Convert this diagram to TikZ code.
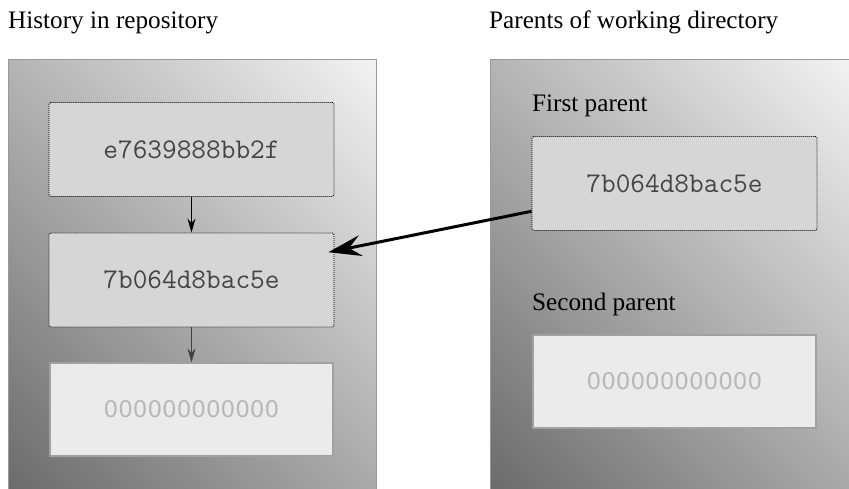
\documentclass[tikz,border=0pt]{standalone}
\usepackage{fontspec}
\setmainfont{Liberation Serif}
\newfontfamily\zerosfont{DejaVu Sans}
\usetikzlibrary{positioning,arrows.meta}
\definecolor{panelborder}{rgb}{0.6, 0.6, 0.6}
\definecolor{paneldark}{rgb}{0.42, 0.42, 0.42}
\definecolor{panellight}{rgb}{0.95, 0.95, 0.95}
\definecolor{hashfill}{rgb}{0.84, 0.84, 0.84}
\definecolor{hashtext}{rgb}{0.27, 0.27, 0.27}
\definecolor{nullfill}{rgb}{0.92, 0.92, 0.92}
\definecolor{nullborder}{rgb}{0.63, 0.63, 0.63}
\definecolor{nulltext}{rgb}{0.72, 0.72, 0.72}
\pgfdeclareverticalshading{panelshade}{100bp}{color(0bp)=(paneldark); color(14.6bp)=(paneldark); color(85.4bp)=(panellight); color(100bp)=(panellight)}
\tikzstyle{panel} = [draw = panelborder, line width = 1pt, shading = panelshade, shading angle = -45]
\tikzstyle{paneltitle} = [anchor = base west, inner sep = 0pt, font = \fontsize{25.2}{25.2}\selectfont]
\tikzstyle{hashbox} = [draw = black, dash pattern = on 1pt off 1pt, line width = 0.9pt, fill = hashfill, rounded corners = 1.5pt, minimum width = 285pt, minimum height = 94pt, text = hashtext, font = \ttfamily\fontsize{28.5}{28.5}\selectfont]
\tikzstyle{nullbox} = [draw = nullborder, line width = 1.2pt, fill = nullfill, minimum width = 283pt, minimum height = 93pt, text = nulltext, font = \zerosfont\fontsize{23}{23}\selectfont]
\tikzstyle{parentedge} = [-{Stealth[length = 14pt, width = 8pt]}, line width = 1.2pt]

\begin{document}
\begin{tikzpicture}[x = 1pt, y = -1pt]
\useasboundingbox (0, 0) rectangle (849, 489);
\clip (0, 0) rectangle (849, 489);
\path[panel] (8, 60) rectangle (376, 492);
\path[panel] (490, 60) rectangle (852, 492);
\node[paneltitle] (histtitle) at (8, 29) {History in repository};
\node[paneltitle] (dirtitle) at (489, 29) {Parents of working directory};
\node[paneltitle] (firstlabel) at (532, 112) {First parent};
\node[paneltitle] (secondlabel) at (532, 310) {Second parent};
\node[hashbox] (histtop) at (191.5, 149.5) {e7639888bb2f};
\node[hashbox] (histmid) at (191.5, 280) {7b064d8bac5e};
\node[nullbox] (histnull) at (191.5, 409.5) {000000000000};
\node[hashbox] (firstp) at (674.5, 183.5) {7b064d8bac5e};
\node[nullbox] (secondp) at (674.5, 381.5) {000000000000};
\draw[parentedge] (histtop) -- (histmid);
\draw[parentedge, black!75, line width = 0.9pt] (histmid) -- (histnull);
\draw[-{Stealth[length = 33pt, width = 21pt, inset = 12pt]}, line width = 3pt] (firstp.-169) -- ([xshift = -6pt]histmid.11);
\end{tikzpicture}
\end{document}
